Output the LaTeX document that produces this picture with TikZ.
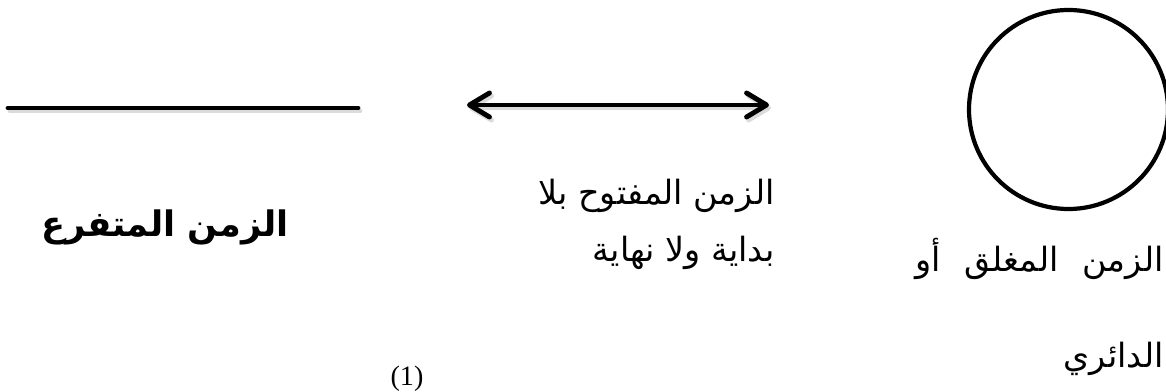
\documentclass[tikz,border=0pt]{standalone}
\usepackage{fontspec}
\usetikzlibrary{arrows.meta,positioning}
\TeXXeTstate=1
\newfontfamily\arabicfont[Script=Arabic]{DejaVu Sans}
\newfontfamily\notefont{Liberation Serif}
\tikzset{
  timeline/.style={line width=2.8pt, line cap=round, draw=black},
  dropshade/.style={draw=black!14, transform canvas={shift={(0.04,-0.06)}}},
  timetip/.tip={Straight Barb[length=4.0mm,width=4.8mm,line cap=round,line join=round]},
  cyclenode/.style={circle, draw=black, line width=2.4pt, minimum size=3.98cm, inner sep=0pt},
  arlabel/.style={font=\arabicfont\fontsize{19}{23}\selectfont, inner sep=0pt, anchor=base east},
  arbold/.style={font=\arabicfont\bfseries\fontsize{20}{24}\selectfont, inner sep=0pt, anchor=base},
  notelabel/.style={font=\notefont\fontsize{16}{18}\selectfont, inner sep=0pt, anchor=base},
}
\begin{document}
\begin{tikzpicture}[x=1cm,y=1cm]
\useasboundingbox (0,0) rectangle (23.32,7.82);

% --- shapes -----------------------------------------------------------------
\coordinate (branchL) at (0.16,5.66);
\coordinate (branchR) at (7.16,5.66);
\draw[timeline, dropshade] (branchL) -- (branchR);
\draw[timeline] (branchL) -- (branchR);

\coordinate (openL) at (9.34,5.72);
\coordinate (openR) at (15.38,5.72);
\draw[timeline, dropshade, timetip-timetip] (openL) -- (openR);
\draw[timeline, timetip-timetip] (openL) -- (openR);

\node[cyclenode] (cycle) at (21.37,5.63) {};

% --- labels -----------------------------------------------------------------
\node[arbold] (branchtxt) at (3.30,3.08) {\beginR الزمن المتفرع\endR};

\node[arlabel] (openTop) at (15.50,3.72) {\beginR الزمن المفتوح بلا\endR};
\node[arlabel] (openBot) at (15.50,2.58) {\beginR بداية ولا نهاية\endR};

% first line is set justified across the column, as in the source
\node[arlabel] (closedTop) at (23.28,2.38)
  {\hbox to 4.96cm{\beginR الزمن\hfil المغلق\hfil أو\endR}};
\node[arlabel] (closedBot) at (23.28,0.48) {\beginR الدائري\endR};

\node[notelabel] (note) at (8.14,0.12) {(1)};

\end{tikzpicture}
\end{document}
